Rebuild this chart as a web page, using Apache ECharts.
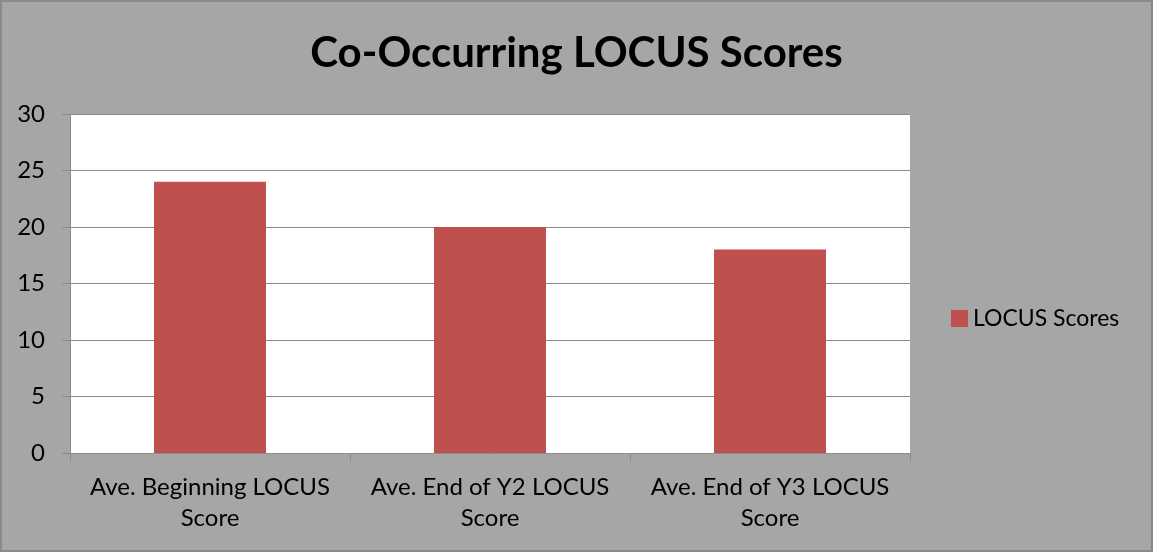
<!DOCTYPE html>
<html>
<head>
<meta charset="utf-8">
<script src="https://cdn.jsdelivr.net/npm/echarts@6/dist/echarts.min.js"></script>
<style>
  html, body { margin: 0; padding: 0; background: #ffffff; }
  #chart1 {
    width: 1149px; height: 548px;
    border: 2px solid #8a8a8a;
    background: #a6a6a6;
  }
</style>
</head>
<body>
<div id="chart1"></div>
<script>
const categories = ['Ave. Beginning LOCUS\nScore', 'Ave. End of Y2 LOCUS\nScore', 'Ave. End of Y3 LOCUS\nScore'];
const scores = [24, 20, 18];
const yTicks = { min: 0, max: 30, interval: 5 };
const seriesName = 'LOCUS Scores';

const getOptionChart1 = () => {
    const fontFam = 'Lato, "Open Sans", sans-serif';
    return {
        backgroundColor: '#a6a6a6',
        animation: false,
        textStyle: { fontFamily: fontFam },
        title: {
            text: 'Co-Occurring LOCUS Scores',
            left: 'center',
            top: 25,
            textStyle: { fontSize: 42, fontWeight: 'bold', color: '#000', fontFamily: fontFam }
        },
        legend: {
            data: [seriesName],
            orient: 'vertical',
            left: 944,
            top: 300,
            itemWidth: 17,
            itemHeight: 17,
            itemGap: 5,
            icon: 'rect',
            textStyle: { fontSize: 23, color: '#000', fontFamily: fontFam }
        },
        grid: {
            left: 68,
            top: 112,
            width: 840,
            height: 339,
            containLabel: false,
            show: true,
            backgroundColor: '#ffffff',
            borderWidth: 0
        },
        xAxis: {
            type: 'category',
            data: categories,
            axisLine: { show: true, lineStyle: { color: '#8c8c8c', width: 1 } },
            axisTick: { show: true, interval: 0, length: 8, alignWithLabel: false, lineStyle: { color: '#8c8c8c' } },
            axisLabel: { interval: 0, hideOverlap: false, fontSize: 24, color: '#000', margin: 19, lineHeight: 31, fontFamily: fontFam }
        },
        yAxis: {
            type: 'value',
            min: yTicks.min,
            max: yTicks.max,
            interval: yTicks.interval,
            axisLine: { show: true, lineStyle: { color: '#8c8c8c', width: 1 } },
            axisTick: { show: true, length: 8, lineStyle: { color: '#8c8c8c' } },
            axisLabel: { fontSize: 24, color: '#000', margin: 25, fontFamily: fontFam },
            splitLine: { show: true, lineStyle: { color: '#8c8c8c', width: 1 } }
        },
        series: [
            {
                name: seriesName,
                type: 'bar',
                barWidth: '40%',
                itemStyle: { color: '#c0504d' },
                data: scores
            }
        ]
    };
};

const initCharts = () => {
    const chart1 = echarts.init(document.getElementById('chart1'));
    chart1.setOption(getOptionChart1());
};

window.addEventListener('load', () => {
    initCharts();
});
</script>
</body>
</html>
